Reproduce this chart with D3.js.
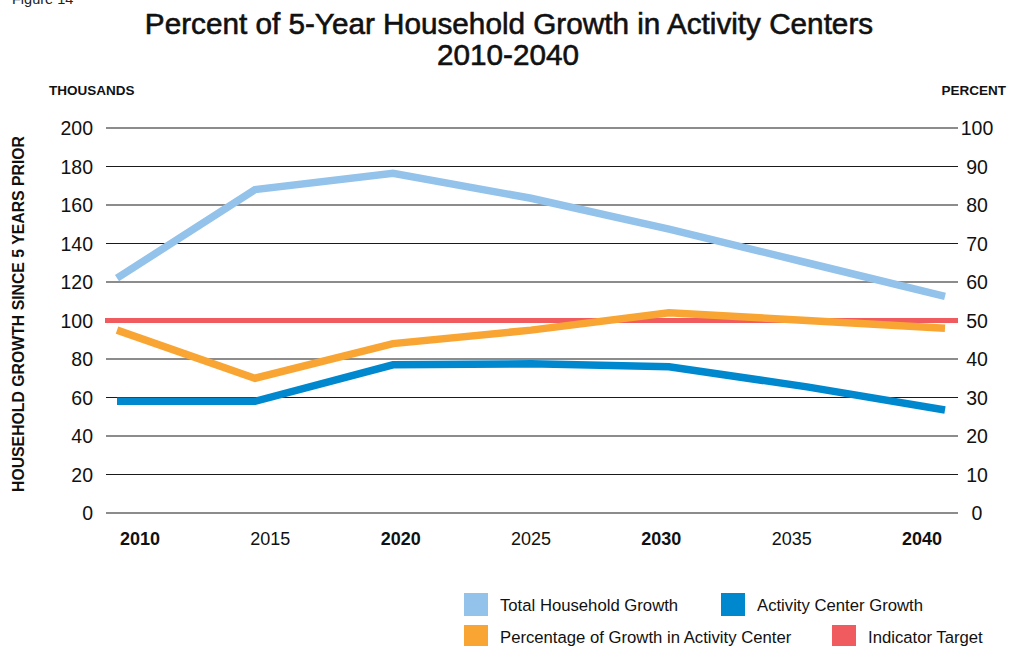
<!DOCTYPE html>
<html>
<head>
<meta charset="utf-8">
<script src="https://cdn.jsdelivr.net/npm/d3@7"></script>
<style>
  html, body { margin: 0; padding: 0; background: #fff; }
  svg { display: block; font-family: "Liberation Sans", Arial, sans-serif; }
</style>
</head>
<body>
<svg id="chart" width="1014" height="646"></svg>
<script>
// Household growth by 5-year period (thousands) and share landing in activity centers (%)
const years = [2010, 2015, 2020, 2025, 2030, 2035, 2040];
const totalGrowth = [122, 168, 176.5, 163.5, 147.5, 130, 112.5];
const activityGrowth = [58, 58, 77, 77.5, 76, 65.5, 53.5];
const pctInActivity = [47.5, 35, 44, 47.5, 52, 50, 48];
const targetPct = 50;

const leftTicks = [0, 20, 40, 60, 80, 100, 120, 140, 160, 180, 200];
const rightTicks = [0, 10, 20, 30, 40, 50, 60, 70, 80, 90, 100];
const boldYears = [2010, 2020, 2030, 2040];

const colors = {
  total: "#93c2ea",
  activity: "#0088cf",
  pct: "#f9a533",
  target: "#f05b5f"
};

const legendItems = [
  { label: "Total Household Growth", color: colors.total, x: 464, y: 593 },
  { label: "Activity Center Growth", color: colors.activity, x: 721, y: 593 },
  { label: "Percentage of Growth in Activity Center", color: colors.pct, x: 464, y: 625 },
  { label: "Indicator Target", color: colors.target, x: 832, y: 625 }
];

const svg = d3.select("#chart");

const gridLeft = 106, gridRight = 958;
const x = d3.scaleLinear().domain([2010, 2040]).range([117, 945]);
const xLabel = d3.scalePoint().domain(years).range([140, 922]);
const yL = d3.scaleLinear().domain([0, 200]).range([513, 128]);
const yR = d3.scaleLinear().domain([0, 100]).range([513, 128]);

// Header
svg.append("text").attr("x", 12).attr("y", 4)
  .attr("font-size", 14.5).attr("fill", "#222").text("Figure 14");

const titleStyle = sel => sel.attr("text-anchor", "middle")
  .attr("font-size", 29.7).attr("fill", "#111")
  .attr("stroke", "#111").attr("stroke-width", 0.6);
svg.append("text").attr("x", 509).attr("y", 34).call(titleStyle)
  .text("Percent of 5-Year Household Growth in Activity Centers");
svg.append("text").attr("x", 508).attr("y", 65).call(titleStyle)
  .text("2010-2040");

svg.append("text").attr("x", 49).attr("y", 95)
  .attr("font-size", 13.5).attr("font-weight", "bold").attr("fill", "#111").text("THOUSANDS");
svg.append("text").attr("x", 1006).attr("y", 95).attr("text-anchor", "end")
  .attr("font-size", 13.5).attr("font-weight", "bold").attr("fill", "#111").text("PERCENT");

svg.append("text")
  .attr("transform", "translate(24,314) rotate(-90)")
  .attr("text-anchor", "middle")
  .attr("font-size", 15.8).attr("font-weight", "bold").attr("fill", "#111")
  .text("HOUSEHOLD GROWTH SINCE 5 YEARS PRIOR");

// Gridlines
svg.append("g").selectAll("line").data(leftTicks).join("line")
  .attr("x1", gridLeft).attr("x2", gridRight)
  .attr("y1", d => yL(d)).attr("y2", d => yL(d))
  .attr("stroke", "#1a1a1a").attr("stroke-width", 1.2);

// Left axis labels
svg.append("g").selectAll("text").data(leftTicks).join("text")
  .attr("x", 93).attr("y", d => yL(d) + 7)
  .attr("text-anchor", "end").attr("font-size", 19.5).attr("fill", "#111")
  .text(d => d);

// Right axis labels
svg.append("g").selectAll("text").data(rightTicks).join("text")
  .attr("x", 977).attr("y", d => yR(d) + 7)
  .attr("text-anchor", "middle").attr("font-size", 19.5).attr("fill", "#111")
  .text(d => d);

// Year labels
svg.append("g").selectAll("text").data(years).join("text")
  .attr("x", d => xLabel(d)).attr("y", 545)
  .attr("text-anchor", "middle").attr("font-size", 18)
  .attr("font-weight", d => boldYears.includes(d) ? "bold" : "normal")
  .attr("fill", "#111").text(d => d);

// Indicator target
svg.append("line")
  .attr("x1", gridLeft - 1).attr("x2", gridRight)
  .attr("y1", yR(targetPct)).attr("y2", yR(targetPct))
  .attr("stroke", colors.target).attr("stroke-width", 5);

const lineL = d3.line().x((d, i) => x(years[i])).y(d => yL(d));
const lineR = d3.line().x((d, i) => x(years[i])).y(d => yR(d));

svg.append("path").datum(totalGrowth).attr("d", lineL)
  .attr("fill", "none").attr("stroke", colors.total).attr("stroke-width", 7.5);
svg.append("path").datum(activityGrowth).attr("d", lineL)
  .attr("fill", "none").attr("stroke", colors.activity).attr("stroke-width", 7.5);
svg.append("path").datum(pctInActivity).attr("d", lineR)
  .attr("fill", "none").attr("stroke", colors.pct).attr("stroke-width", 7.5);

// Legend
const leg = svg.append("g").selectAll("g").data(legendItems).join("g")
  .attr("transform", d => `translate(${d.x},${d.y})`);
leg.append("rect").attr("width", 24).attr("height", 23).attr("fill", d => d.color);
leg.append("text").attr("x", 36).attr("y", 18)
  .attr("font-size", 16.7).attr("fill", "#111").text(d => d.label);
</script>
</body>
</html>
